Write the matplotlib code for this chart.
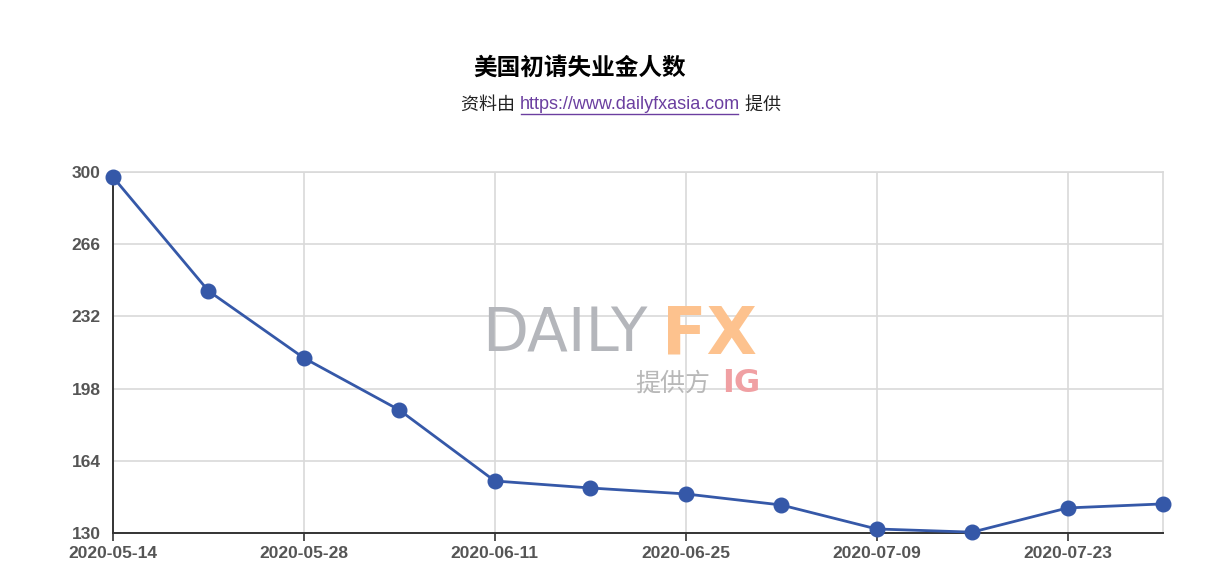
import matplotlib
matplotlib.use("Agg")
import matplotlib.pyplot as plt
from matplotlib.lines import Line2D

# data (thousands)
dates = ["2020-05-14", "2020-05-21", "2020-05-28", "2020-06-04", "2020-06-11", "2020-06-18",
         "2020-06-25", "2020-07-02", "2020-07-09", "2020-07-16", "2020-07-23", "2020-07-30"]
claims = [297.6, 244.0, 212.4, 187.9, 154.5, 151.2, 148.4, 143.2, 131.9, 130.4, 141.8, 143.7]
y_ticks = [130, 164, 198, 232, 266, 300]

title = "美国初请失业金人数"
sub_pre = "资料由 "
sub_link = "https://www.dailyfxasia.com"
sub_post = " 提供"

fonts = ["Liberation Sans", "Noto Sans CJK SC", "DejaVu Sans"]
plt.rcParams["font.family"] = fonts

fig = plt.figure(figsize=(12.15, 5.74), dpi=100)
ax = fig.add_axes([113 / 1215, 41 / 574, 1050 / 1215, 361 / 574])

x = list(range(len(dates)))
ax.plot(x, claims, color="#3558a8", lw=2.0, marker="o", ms=10.5, zorder=5, clip_on=False)

ax.set_xlim(0, len(dates) - 1)
ax.set_ylim(y_ticks[0], y_ticks[-1])
ax.set_yticks(y_ticks)
ax.set_xticks(x[::2])
ax.set_xticklabels(dates[::2])

for lab in ax.get_xticklabels() + ax.get_yticklabels():
    lab.set_fontweight("bold")
    lab.set_color("#555555")
    lab.set_fontsize(12.5)

ax.tick_params(axis="y", length=0, pad=9)
ax.tick_params(axis="x", length=6, width=1.2, color="#333333", pad=3)
ax.grid(True, color="#d9d9d9", lw=1.2, zorder=0)
ax.set_axisbelow(True)

for side in ["top", "right"]:
    ax.spines[side].set_color("#d9d9d9")
    ax.spines[side].set_linewidth(1.2)
for side in ["left", "bottom"]:
    ax.spines[side].set_color("#333333")
    ax.spines[side].set_linewidth(1.4)

# watermark
ax.text(0.352, 0.548, "DAILY", transform=ax.transAxes, fontsize=43,
        color="#b4b6bb", family="DejaVu Sans", va="center", ha="left", zorder=1)
ax.text(0.523, 0.548, "FX", transform=ax.transAxes, fontsize=47, fontweight="bold",
        color="#fdc28e", family="DejaVu Sans", va="center", ha="left", zorder=1)
ax.text(0.533, 0.415, "提供方", transform=ax.transAxes, fontsize=18,
        color="#b8b8b8", family=["Noto Sans CJK SC"], va="center", ha="center", zorder=1)
ax.text(0.598, 0.415, "IG", transform=ax.transAxes, fontsize=23, fontweight="bold",
        color="#f0a0a3", family="DejaVu Sans", va="center", ha="center", zorder=1)

# title
fig.text(580 / 1215, 1 - 68 / 574, title, ha="center", va="center", fontsize=17,
         fontweight="bold", family=["Noto Sans CJK SC"])

# subtitle built from three pieces
fig.canvas.draw()
r = fig.canvas.get_renderer()
y_sub = 1 - 105 / 574
t1 = fig.text(0, y_sub, sub_pre, ha="left", va="center", fontsize=13, color="#222222")
t2 = fig.text(0, y_sub, sub_link, ha="left", va="center", fontsize=13, color="#6b3fa0")
t3 = fig.text(0, y_sub, sub_post, ha="left", va="center", fontsize=13, color="#222222")
w = [t.get_window_extent(r).width / fig.bbox.width for t in (t1, t2, t3)]
x0 = 621 / 1215 - sum(w) / 2
t1.set_x(x0)
t2.set_x(x0 + w[0])
t3.set_x(x0 + w[0] + w[1])
fig.lines.append(Line2D([x0 + w[0] + 0.001, x0 + w[0] + w[1] - 0.002], [y_sub - 9 / 574] * 2,
                        transform=fig.transFigure, color="#6b3fa0", lw=1))

fig.savefig("out.png", dpi=100, facecolor="white")
